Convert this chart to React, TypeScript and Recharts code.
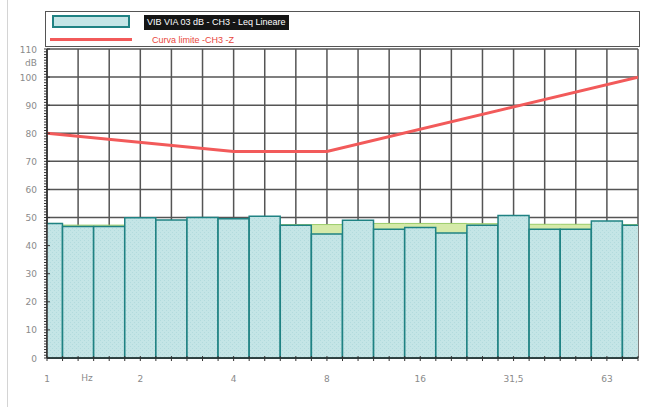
import React from "react";
import {
  ComposedChart,
  Bar,
  Area,
  Line,
  XAxis,
  YAxis,
  CartesianGrid,
} from "recharts";

// 1/3 octave bands, Hz
const bands = [
  "1", "1.25", "1.6", "2", "2.5", "3.15", "4", "5", "6.3", "8",
  "10", "12.5", "16", "20", "25", "31.5", "40", "50", "63", "80",
];

// Leq lineare per banda (dB)
const leqLineare = [
  47.9, 46.8, 46.8, 49.9, 49.1, 50.0, 49.6, 50.5, 47.3, 44.1,
  49.0, 45.8, 46.5, 44.5, 47.3, 50.7, 45.8, 45.8, 48.8, 47.3,
];

// livello di fondo (verde, dietro le barre)
const fondo = [
  47.9, 47.3, 47.3, 47.5, 47.5, 47.5, 47.5, 47.5, 47.5, 47.5,
  47.8, 47.9, 47.9, 47.9, 47.8, 47.7, 47.6, 47.6, 47.6, 47.5,
];

// curva limite CH3-Z: punti di rottura
const limitFreqs = ["1", "4", "8", "80"];
const limitDb = [80, 73.5, 73.5, 100];

const xLabelFreqs = ["1", "2", "4", "8", "16", "31.5", "63"];
const yMajorTicks = [0, 10, 20, 30, 40, 50, 60, 70, 80, 90, 100, 110];

const data = bands.map((freq, i) => ({
  band: i,
  freq,
  leq: leqLineare[i],
  fondo: fondo[i],
}));

const limitData = limitFreqs.map((f, i) => ({
  band: bands.indexOf(f),
  limit: limitDb[i],
}));

// tacche: mezza banda sull'asse X, 1 dB sull'asse Y
const xTicks: number[] = [];
for (let b = 0; b <= bands.length - 1; b += 0.5) xTicks.push(b);
const yTicks: number[] = [];
for (let v = 0; v <= 110; v++) yTicks.push(v);

const axisFont = "DejaVu Sans, Verdana, sans-serif";
const labelColor = "#8a8a8a";

const XTick = (props: any) => {
  const { x, y, payload } = props;
  const b = payload.value;
  const freq = Number.isInteger(b) ? bands[b] : null;
  const label = freq && xLabelFreqs.includes(freq) ? freq.replace(".", ",") : null;
  return (
    <g>
      <line x1={x} x2={x} y1={y - 2} y2={y + 3} stroke="#333" strokeWidth={1} />
      {label && (
        <text x={x} y={y + 24} textAnchor="middle" fontSize={9} fill={labelColor} fontFamily={axisFont}>
          {label}
        </text>
      )}
    </g>
  );
};

const YTick = (props: any) => {
  const { x, y, payload } = props;
  const v = payload.value;
  const major = v % 10 === 0;
  return (
    <g>
      <line x1={x - 3} x2={major ? x + 3 : x} y1={y} y2={y} stroke="#333" strokeWidth={1} />
      {major && (
        <text x={x - 10} y={y + 3.5} textAnchor="end" fontSize={9} fill={labelColor} fontFamily={axisFont}>
          {v}
        </text>
      )}
    </g>
  );
};

const legendFont = "Liberation Sans, Arial, sans-serif";

export default function App() {
  return (
    <div style={{ position: "absolute", left: 0, top: 0, width: 650, height: 407, background: "#fff" }}>
      <ComposedChart
        width={650}
        height={407}
        data={data}
        margin={{ top: 49, right: 12, bottom: 19, left: 0 }}
        barCategoryGap={0}
      >
        <defs>
          <pattern id="leqFill" width="4" height="4" patternUnits="userSpaceOnUse">
            <rect width="4" height="4" fill="#c4e5e6" />
            <rect width="1" height="1" fill="#b2dbdd" />
            <rect x="2" y="2" width="1" height="1" fill="#b2dbdd" />
          </pattern>
        </defs>
        <CartesianGrid
          horizontalValues={yMajorTicks}
          verticalValues={bands.map((_, i) => i)}
          stroke="#555"
          strokeWidth={1.5}
        />
        <XAxis
          type="number"
          dataKey="band"
          domain={[0, bands.length - 1]}
          allowDataOverflow
          ticks={xTicks}
          interval={0}
          tick={<XTick />}
          tickLine={false}
          tickSize={0}
          tickMargin={0}
          height={30}
          axisLine={{ stroke: "#2a2a2a", strokeWidth: 1.5 }}
        />
        <YAxis
          type="number"
          domain={[0, 110]}
          ticks={yTicks}
          interval={0}
          tick={<YTick />}
          tickLine={false}
          tickSize={0}
          tickMargin={0}
          width={47}
          axisLine={{ stroke: "#2a2a2a", strokeWidth: 1.5 }}
        />
        <Area
          type="step"
          dataKey="fondo"
          fill="#d5eaa9"
          fillOpacity={1}
          stroke="#9ccc6a"
          strokeWidth={1}
          isAnimationActive={false}
        />
        <Bar
          dataKey="leq"
          fill="url(#leqFill)"
          stroke="#1f8283"
          strokeWidth={1.5}
          isAnimationActive={false}
        />
        <Line
          data={limitData}
          dataKey="limit"
          stroke="#f25a5a"
          strokeWidth={3}
          dot={false}
          isAnimationActive={false}
        />
      </ComposedChart>

      {/* cornice sinistra */}
      <div style={{ position: "absolute", left: 7, top: 0, width: 1, height: 407, background: "#d4d4d4" }} />

      {/* unità degli assi */}
      <div style={{ position: "absolute", left: 0, width: 37, top: 58, textAlign: "right", fontSize: 9, color: labelColor, fontFamily: axisFont }}>
        dB
      </div>
      <div style={{ position: "absolute", left: 77, width: 20, top: 373, textAlign: "center", fontSize: 9, color: labelColor, fontFamily: axisFont }}>
        Hz
      </div>

      {/* legenda */}
      <div style={{ position: "absolute", left: 45, top: 11, width: 595, height: 36, boxSizing: "border-box", border: "1.5px solid #555", background: "#fff" }} />
      <div style={{ position: "absolute", left: 52, top: 15, width: 78, height: 13, boxSizing: "border-box", border: "2px solid #1f8283", background: "#c4e5e6" }} />
      <div style={{ position: "absolute", left: 144, top: 15, height: 15, lineHeight: "15px", padding: "0 3px", background: "#151515", color: "#fff", fontSize: 9, fontFamily: legendFont, whiteSpace: "nowrap" }}>
        VIB VIA 03 dB - CH3 - Leq Lineare
      </div>
      <div style={{ position: "absolute", left: 50, top: 38, width: 82, height: 3, background: "#f25a5a" }} />
      <div style={{ position: "absolute", left: 152, top: 34, lineHeight: "12px", color: "#e8453c", fontSize: 9, fontFamily: legendFont, whiteSpace: "nowrap" }}>
        Curva limite -CH3 -Z
      </div>
    </div>
  );
}
